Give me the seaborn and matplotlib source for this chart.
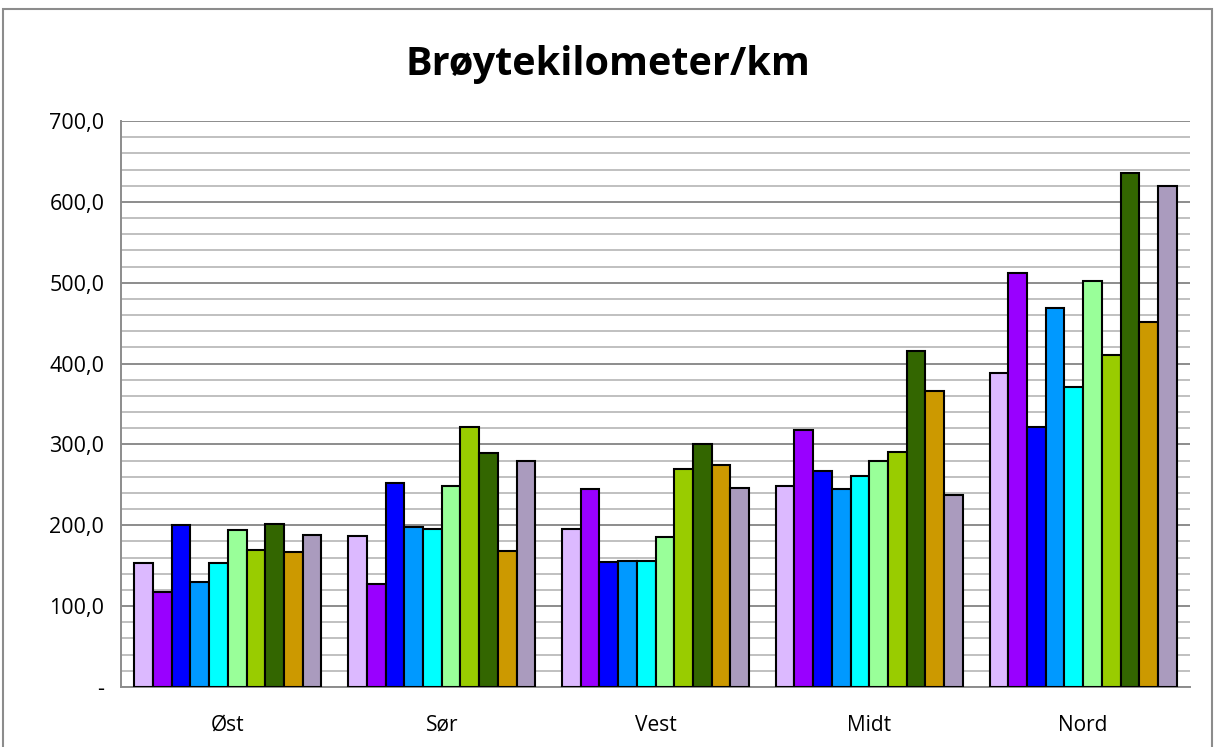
import matplotlib
matplotlib.use('Agg')
import matplotlib.pyplot as plt
import matplotlib.patches as mpatches
from matplotlib.ticker import MultipleLocator, FuncFormatter
import pandas as pd
import seaborn as sns

# Data (10 series per region)
regions = ['Øst', 'Sør', 'Vest', 'Midt', 'Nord']
series = ['S1', 'S2', 'S3', 'S4', 'S5', 'S6', 'S7', 'S8', 'S9', 'S10']
ost = [153, 117, 200, 130, 153, 194, 169, 201, 167, 188]
sor = [187, 127, 252, 198, 196, 249, 321, 289, 168, 279]
vest = [195, 245, 155, 156, 156, 185, 270, 301, 275, 246]
midt = [248, 318, 267, 245, 261, 279, 291, 416, 366, 238]
nord = [388, 512, 322, 469, 371, 502, 410, 636, 451, 620]
colors = ['#DCB9FF', '#9900FF', '#0000FF', '#0099FF', '#00FFFF',
          '#99FF99', '#99CC00', '#336600', '#CC9900', '#AA9BBE']

rows = []
for reg, vals in zip(regions, [ost, sor, vest, midt, nord]):
    for s, v in zip(series, vals):
        rows.append({'region': reg, 'serie': s, 'value': v})
df = pd.DataFrame(rows)

sns.set_style('white')
plt.rcParams['font.family'] = ['Open Sans', 'DejaVu Sans']
plt.rcParams['text.color'] = 'black'
plt.rcParams['xtick.color'] = 'black'
plt.rcParams['ytick.color'] = 'black'

fig = plt.figure(figsize=(12.15, 7.47), dpi=100)
ax = fig.add_axes([121 / 1215, 1 - 687 / 747, (1190 - 121) / 1215, (687 - 121) / 747])

sns.barplot(data=df, x='region', y='value', hue='serie', order=regions,
            hue_order=series, palette=colors, saturation=1, width=0.875, gap=0,
            edgecolor='black', linewidth=1.5, legend=False, ax=ax, zorder=3)

ax.set_ylim(0, 700)
ax.set_xlim(-0.5, 4.5)
ax.yaxis.set_major_locator(MultipleLocator(100))
ax.yaxis.set_minor_locator(MultipleLocator(20))
ax.yaxis.set_major_formatter(FuncFormatter(
    lambda v, p: '-' if v == 0 else f'{v:.1f}'.replace('.', ',')))
ax.grid(axis='y', which='major', color='#8c8c8c', linewidth=1.4, zorder=0)
ax.grid(axis='y', which='minor', color='#c0c0c0', linewidth=1.4, zorder=0)
ax.set_axisbelow(True)
ax.tick_params(axis='y', labelsize=15.5, pad=12, length=0, labelcolor='black')
ax.tick_params(axis='x', labelsize=15, pad=20, length=0, labelcolor='black')
ax.set_xlabel('')
ax.set_ylabel('')
for side in ['top', 'right']:
    ax.spines[side].set_visible(False)
for side in ['left', 'bottom']:
    ax.spines[side].set_color('#8c8c8c')
    ax.spines[side].set_linewidth(1.4)

fig.text(0.5, 1 - 65 / 747, 'Brøytekilometer/km', ha='center', va='center',
         fontsize=28.5, fontweight='bold', color='black')

# outer chart border
fig.patches.append(mpatches.Rectangle((3 / 1215, -0.01), 1209 / 1215, 1 - 9 / 747 + 0.01,
                                      transform=fig.transFigure, fill=False,
                                      edgecolor='#8c8c8c', linewidth=1.5))

fig.savefig('out.png', dpi=100)
